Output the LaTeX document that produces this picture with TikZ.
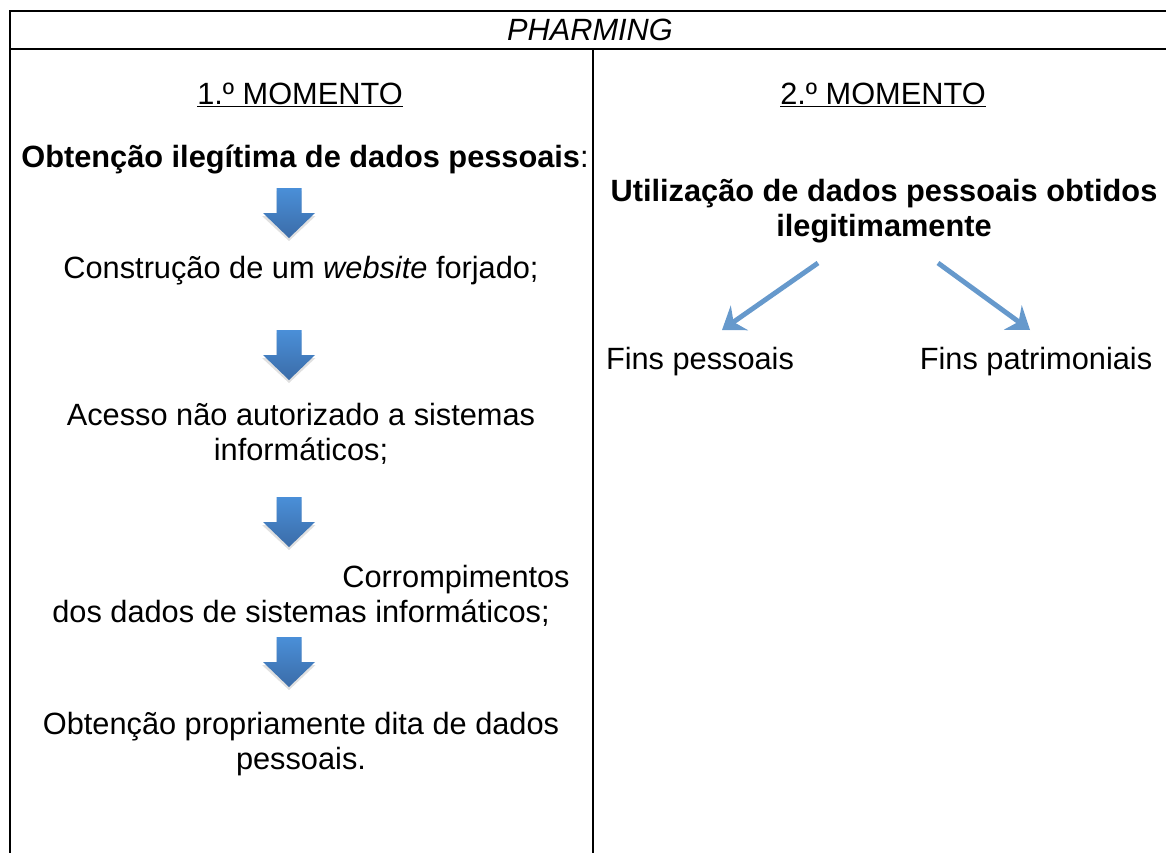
\documentclass[tikz,border=0pt]{standalone}
\usepackage{fontspec}
\setmainfont{Liberation Sans}
\usetikzlibrary{arrows.meta}
\definecolor{blockblue}{HTML}{4A8FD8}
\definecolor{blockdark}{HTML}{3B6CA8}
\definecolor{linkblue}{HTML}{6699CC}
\tikzset{
    txt/.style = {inner sep=0pt, anchor=base, font=\fontsize{17.5}{20}\selectfont},
    bold/.style = {txt, font=\fontsize{17.5}{20}\selectfont\bfseries},
    rule/.style = {line width=1.2pt, black},
    link/.style = {line width=2.8pt, linkblue, -{Stealth[length=12pt, width=17pt, inset=4pt]}}
}

\begin{document}
\begin{tikzpicture}[x=0.02cm, y=-0.02cm]

        \useasboundingbox (0,0) rectangle (1166,853);

        %% table

        \draw[rule] (1166,11) -- (10,11) -- (10,853);
        \draw[rule] (10,49) -- (1166,49);
        \draw[rule] (593,49) -- (593,853);

        \node (title) [txt] at (590,40) {\itshape PHARMING};

        \node (mom1) [txt] at (300,104) {\underline{1.º MOMENTO}};
        \node (mom2) [txt] at (883,104) {\underline{2.º MOMENTO}};

        %% 1.º momento

        \node (obt) [bold] at (305,167) {Obtenção ilegítima de dados pessoais\mdseries:};
        \node (site) [txt] at (301,278) {Construção de um \textit{website} forjado;};
        \node (acc1) [txt] at (301,425) {Acesso não autorizado a sistemas};
        \node (acc2) [txt] at (301,460) {informáticos;};
        \node (cor1) [txt, anchor=base east] at (570,587) {Corrompimentos};
        \node (cor2) [txt] at (301,622) {dos dados de sistemas informáticos;};
        \node (dat1) [txt] at (301,734) {Obtenção propriamente dita de dados};
        \node (dat2) [txt] at (301,769) {pessoais.};

        \foreach \y in {188,330,497,637} {
            \fill[black, opacity=0.12] (289-12.5,\y+3) -- ++(25,0) -- ++(0,25) -- ++(14,0)
                -- (289,\y+53) -- (289-27,\y+28) -- ++(14.5,0) -- cycle;
            \shade[top color=blockblue, bottom color=blockdark] (289-12.5,\y) -- ++(25,0) -- ++(0,25)
                -- ++(13.5,0) -- (289,\y+50) -- (289-26,\y+25) -- ++(13.5,0) -- cycle;
        }

        %% 2.º momento

        \node (uti1) [bold] at (884,201) {Utilização de dados pessoais obtidos};
        \node (uti2) [bold] at (884,236) {ilegitimamente};

        \node (pess) [txt] at (700,369) {Fins pessoais};
        \node (patr) [txt] at (1036,369) {Fins patrimoniais};

        \coordinate (fromL) at (818,263);
        \coordinate (toL) at (722,330);
        \coordinate (fromR) at (938,263);
        \coordinate (toR) at (1030,330);

        \draw[link] (fromL) -- (toL);
        \draw[link] (fromR) -- (toR);

    \end{tikzpicture}
\end{document}
